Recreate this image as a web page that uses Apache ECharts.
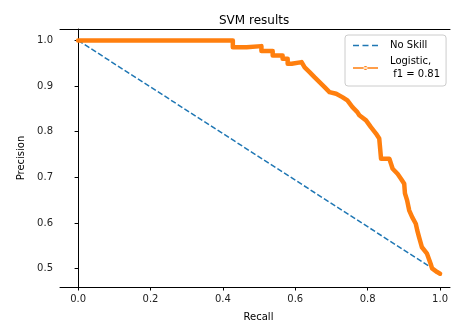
<!DOCTYPE html>
<html>
<head>
<meta charset="utf-8">
<script src="https://cdn.jsdelivr.net/npm/echarts@6/dist/echarts.min.js"></script>
<style>html,body{margin:0;padding:0;background:#fff;}#c{width:451px;height:329px;}</style>
</head>
<body>
<div id="c"></div>
<script>
const titleText = 'SVM results';
const xTicks = [0, 0.2, 0.4, 0.6, 0.8, 1.0];
const yTicks = [0.5, 0.6, 0.7, 0.8, 0.9, 1.0];
const noSkillRecall = [0, 1];
const noSkillPrecision = [1.0, 0.49];
const logisticRecall = [0, 0.4275, 0.4275, 0.466, 0.466, 0.5065, 0.5065, 0.5376, 0.5376, 0.565, 0.565, 0.579, 0.579, 0.59, 0.59, 0.6175,
  0.626, 0.6395, 0.653, 0.667, 0.681, 0.6945, 0.713, 0.730, 0.744, 0.758, 0.7715, 0.777, 0.7955, 0.809, 0.823, 0.832, 0.837,
  0.840, 0.860, 0.869, 0.8825, 0.892, 0.901, 0.903, 0.909, 0.9147, 0.923, 0.933, 0.937, 0.942, 0.95, 0.964, 0.974, 0.978, 0.992, 1.0];
const logisticPrecision = [1.0, 1.0, 0.985, 0.985, 0.9875, 0.9875, 0.9766, 0.9766, 0.967, 0.967, 0.96, 0.96, 0.949, 0.949, 0.9525, 0.9525,
  0.941, 0.9306, 0.9196, 0.9087, 0.8977, 0.8868, 0.8833, 0.8758, 0.8686, 0.854, 0.843, 0.836, 0.825, 0.810, 0.796, 0.785, 0.741,
  0.7445, 0.741, 0.719, 0.708, 0.697, 0.686, 0.665, 0.6497, 0.628, 0.613, 0.5986, 0.584, 0.5693, 0.547, 0.533, 0.511, 0.5008, 0.4927, 0.489];
const seriesNames = ['No Skill', 'Logistic,\n f1 = 0.81'];

const font = 'DejaVu Sans';
const zip = (a, b) => a.map((v, i) => [v, b[i]]);
const fmt = v => v.toFixed(1);
const xMin = -0.05, xMax = 1.0275;

const chart = echarts.init(document.getElementById('c'), null, {renderer: 'canvas'});
chart.setOption({
  animation: false,
  backgroundColor: '#fff',
  title: {
    text: titleText, left: 214, top: 10,
    textStyle: {fontFamily: font, fontSize: 12, fontWeight: 'normal', color: '#000'}
  },
  grid: {left: 60, right: 0, top: 29, bottom: 42},
  legend: {
    orient: 'vertical', left: 345, top: 35,
    padding: [4, 6, 5, 8], itemWidth: 25, itemHeight: 14, itemGap: 3,
    borderColor: '#ccc', borderWidth: 1, borderRadius: 3, backgroundColor: 'rgba(255,255,255,0.8)',
    textStyle: {fontFamily: font, fontSize: 10, color: '#000', lineHeight: 13, padding: [0, 0, 0, 7]},
    itemStyle: {borderWidth: 0},
    data: [
      {name: seriesNames[0], icon: 'path://M0,0H6V1.5H0Z M9.5,0H15.5V1.5H9.5Z M19,0H25V1.5H19Z'},
      {name: seriesNames[1], icon: 'path://M0,1.25H25V2.75H0Z M10.5,2A2,2 0 1,0 14.5,2A2,2 0 1,0 10.5,2Z'}
    ]
  },
  xAxis: [{
    type: 'value', min: xMin, max: xMax, position: 'bottom',
    name: 'Recall', nameLocation: 'middle', nameGap: 25,
    nameTextStyle: {fontFamily: font, fontSize: 10, color: '#000', padding: [0, 0, 0, 7]},
    axisLine: {show: true, lineStyle: {color: '#000', width: 1}},
    axisTick: {show: true, length: 3.5, lineStyle: {color: '#000'}, customValues: xTicks},
    axisLabel: {fontFamily: font, fontSize: 10, color: '#222', margin: 7, customValues: xTicks, formatter: fmt},
    splitLine: {show: false}
  }, {
    type: 'value', min: xMin, max: xMax, position: 'top',
    axisLine: {show: true, onZero: false, lineStyle: {color: '#000', width: 1}},
    axisTick: {show: false}, axisLabel: {show: false}, splitLine: {show: false}
  }],
  yAxis: {
    type: 'value', min: 0.46, max: 1.025,
    name: 'Precision', nameLocation: 'middle', nameGap: 34, nameRotate: 90,
    nameTextStyle: {fontFamily: font, fontSize: 10, color: '#000'},
    axisLine: {show: true, lineStyle: {color: '#000', width: 1}},
    axisTick: {show: true, length: 3.5, lineStyle: {color: '#000'}, customValues: yTicks},
    axisLabel: {fontFamily: font, fontSize: 10, color: '#222', margin: 7, customValues: yTicks, formatter: fmt},
    splitLine: {show: false}
  },
  series: [
    {
      name: seriesNames[0], type: 'line', data: zip(noSkillRecall, noSkillPrecision),
      symbol: 'none', color: '#1f77b4',
      lineStyle: {width: 1.5, type: [5.5, 2.4], color: '#1f77b4'}
    },
    {
      name: seriesNames[1], type: 'line', data: zip(logisticRecall, logisticPrecision),
      symbol: 'circle', showSymbol: false, color: '#ff7f0e',
      lineStyle: {width: 4.5, color: '#ff7f0e', cap: 'round', join: 'round'}
    }
  ]
});
</script>
</body>
</html>
